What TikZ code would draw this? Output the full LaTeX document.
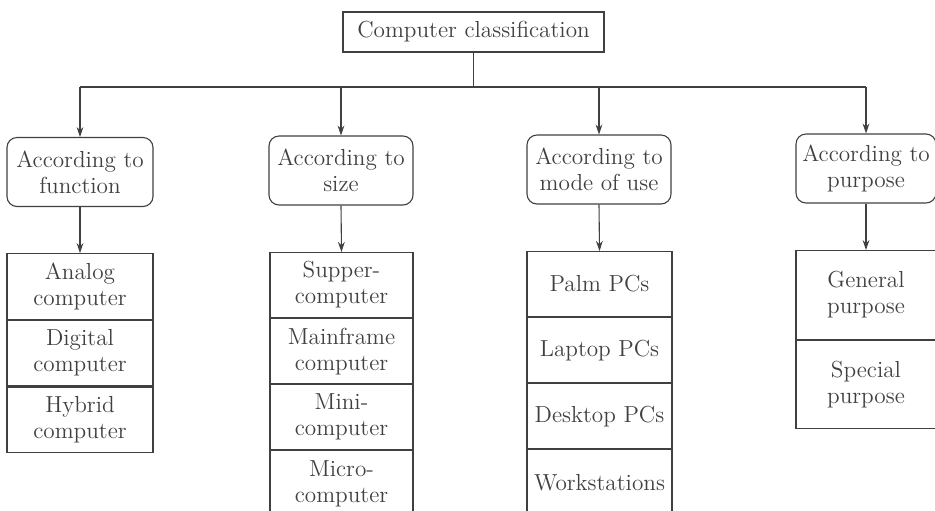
\documentclass[tikz,border=0pt]{standalone}
\usetikzlibrary{arrows.meta}
\colorlet{ink}{black!75}
\tikzset{
  line/.style={draw=ink, line width=0.55pt},
  arr/.style={line, -{Stealth[length=5pt,width=3.4pt]}},
  base/.style={line, text=ink, align=center, inner sep=0pt,
    font=\fontsize{11.6}{13}\selectfont},
  topbox/.style={base, minimum width=130.5pt, minimum height=20pt},
  group/.style={base, rounded corners=5pt, minimum height=34.5pt},
  cell/.style={base, anchor=north}
}
\begin{document}
\begin{tikzpicture}[x=0.5pt,y=-0.5pt]
\useasboundingbox (0,0) rectangle (935,510);

% root
\node[topbox] (root) at (473.5,32) {Computer classification};
\coordinate (bus) at (473.5,87);

% second level
\node[group, minimum width=73pt] (g1) at (80,172) {According to\\function};
\node[group, minimum width=72pt] (g2) at (341,170.5) {According to\\size};
\node[group, minimum width=72pt] (g3) at (599,169.5) {According to\\mode of use};
\node[group, minimum width=70pt] (g4) at (866,168.5) {According to\\purpose};

% connectors from the root
\draw[line] (root.south) -- (bus);
\draw[line] (g1.north |- bus) -- (g4.north |- bus);
\foreach \g in {g1,g2,g3,g4}
  \draw[arr] (\g.north |- bus) -- (\g.north);

% according to function
\node[cell, minimum width=73pt, minimum height=32.8pt] (a1) at (80,253) {Analog\\computer};
\node[cell, minimum width=73pt, minimum height=32.8pt] (a2) at (a1.south) {Digital\\computer};
\node[cell, minimum width=73pt, minimum height=32.8pt] (a3) at (a2.south) {Hybrid\\computer};

% according to size
\node[cell, minimum width=71.5pt, minimum height=32.5pt] (b1) at (341.5,252) {Supper-\\computer};
\node[cell, minimum width=71.5pt, minimum height=32.5pt] (b2) at (b1.south) {Mainframe\\computer};
\node[cell, minimum width=71.5pt, minimum height=32.5pt] (b3) at (b2.south) {Mini-\\computer};
\node[cell, minimum width=71.5pt, minimum height=32.5pt] (b4) at (b3.south) {Micro-\\computer};

% according to mode of use
\node[cell, minimum width=72.5pt, minimum height=32.5pt] (c1) at (599.5,251) {Palm PCs};
\node[cell, minimum width=72.5pt, minimum height=32.5pt] (c2) at (c1.south) {Laptop PCs};
\node[cell, minimum width=72.5pt, minimum height=32.5pt] (c3) at (c2.south) {Desktop PCs};
\node[cell, minimum width=72.5pt, minimum height=32.5pt] (c4) at (c3.south) {Workstations};

% according to purpose
\node[cell, minimum width=70pt, minimum height=44.25pt] (d1) at (866,250) {General\\purpose};
\node[cell, minimum width=70pt, minimum height=44.25pt] (d2) at (d1.south) {Special\\purpose};

% connectors to the lists
\draw[arr] (g1.south) -- (a1.north);
\draw[arr] (g2.south) -- (b1.north);
\draw[arr] (g3.south) -- (c1.north);
\draw[arr] (g4.south) -- (d1.north);
\end{tikzpicture}
\end{document}
